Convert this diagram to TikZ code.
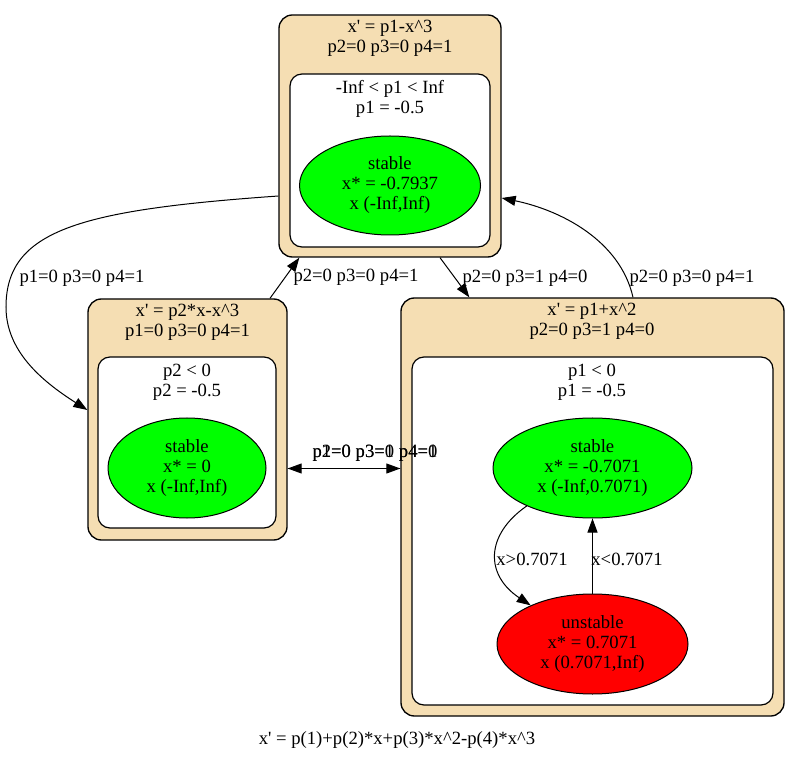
\documentclass[tikz,border=0pt]{standalone}
\usepackage{fontspec}
\setmainfont{Liberation Serif}
\usetikzlibrary{arrows.meta,shapes.geometric,calc}
\definecolor{wheat}{HTML}{F5DEB3}
\newcommand{\pr}{\textquotesingle}
\newcommand{\crt}{\textasciicircum}
\begin{document}
\begin{tikzpicture}[x=0.75pt,y=-0.75pt,
  every node/.style={font=\fontsize{14pt}{15pt}\selectfont},
  outerbox/.style={draw, line width=1pt, fill=wheat, rounded corners=10pt, inner sep=0pt},
  innerbox/.style={draw, line width=0.9pt, fill=white, rounded corners=9pt, inner sep=0pt},
  eqstate/.style={draw, ellipse, line width=0.75pt, inner sep=0pt},
  txt/.style={align=center, inner sep=0pt},
  edge/.style={line width=0.75pt, -{Triangle[length=10.5pt,width=7.5pt]}},
]
\useasboundingbox (0,0) rectangle (799,762);

% top system: x' = p1 - x^3
\node[outerbox, minimum width=166.5pt, minimum height=181.5pt] (A) at (390,136) {};
\node[txt] (Atitle) at (390,38.5) {x\pr{} = p1-x\crt3\\p2=0 p3=0 p4=1};
\node[innerbox, minimum width=150pt, minimum height=129.75pt] (Ain) at (390,160.5) {};
\node[txt] (Arange) at (390,99) {-Inf < p1 < Inf\\p1 = -0.5};
\node[eqstate, fill=green, minimum width=135.75pt, minimum height=74.25pt,
  label={[txt]center:stable\\x* = -0.7937\\x (-Inf,Inf)}] (Ae) at (390,185.5) {};

% left system: x' = p2*x - x^3
\node[outerbox, minimum width=149.25pt, minimum height=180.75pt] (B) at (187.5,419.5) {};
\node[txt] (Btitle) at (187.5,322) {x\pr{} = p2*x-x\crt3\\p1=0 p3=0 p4=1};
\node[innerbox, minimum width=133.5pt, minimum height=128.25pt] (Bin) at (187,442.5) {};
\node[txt] (Brange) at (187,382) {p2 < 0\\p2 = -0.5};
\node[eqstate, fill=green, minimum width=118.5pt, minimum height=75pt,
  label={[txt]center:stable\\x* = 0\\x (-Inf,Inf)}] (Be) at (187,468) {};

% right system: x' = p1 + x^2
\node[outerbox, minimum width=287.25pt, minimum height=313.5pt] (C) at (592.5,507) {};
\node[txt] (Ctitle) at (592,321.5) {x\pr{} = p1+x\crt2\\p2=0 p3=1 p4=0};
\node[innerbox, minimum width=270.75pt, minimum height=261pt] (Cin) at (592.5,531) {};
\node[txt] (Crange) at (592,382) {p1 < 0\\p1 = -0.5};
\node[eqstate, fill=green, minimum width=149.25pt, minimum height=75pt,
  label={[txt]center:stable\\x* = -0.7071\\x (-Inf,0.7071)}] (Cg) at (592.5,468) {};
\node[eqstate, fill=red, minimum width=143.25pt, minimum height=75pt,
  label={[txt]center:unstable\\x* = 0.7071\\x (0.7071,Inf)}] (Cr) at (592.5,644) {};

% transitions inside the right system
\draw[edge] (Cg.210) .. controls (485,535) and (485,575) .. (Cr.148);
\draw[edge] (Cr.north) -- (Cg.south);
\node[txt] (lgr) at (532,559) {x>0.7071};
\node[txt] (lrg) at (627,559) {x<0.7071};

% transitions between systems
\draw[edge] ($(A.west)+(0,60)$) .. controls (80,210) and (6,230) .. (6,307)
  .. controls (6,350) and (40,380) .. ($(B.west)+(0,-9.5)$);
\draw[edge] ($(B.north)+(82.5,0)$) -- ($(A.south west)+(21,0)$);
\draw[edge] ($(A.south)+(50,0)$) -- ($(C.north west)+(69,0)$);
\draw[edge] ($(C.north)+(40.5,0)$) .. controls (620,240) and (560,210) .. ($(A.east)+(0,62)$);
\draw[edge] ($(B.east)+(0,49)$) -- ($(C.west)+(0,-38.5)$);
\draw[edge] ($(C.west)+(0,-38.5)$) -- ($(B.east)+(0,49)$);

\node[txt] (lAB) at (82,278) {p1=0 p3=0 p4=1};
\node[txt] (lBA) at (356,277) {p2=0 p3=0 p4=1};
\node[txt] (lAC) at (525,278) {p2=0 p3=1 p4=0};
\node[txt] (lCA) at (692,278) {p2=0 p3=0 p4=1};
\node[txt] (lCB) at (375,453) {p1=0 p3=0 p4=1};
\node[txt] (lBC) at (375,453) {p2=0 p3=1 p4=0};

% model
\node[txt] (cap) at (397,740) {x\pr{} = p(1)+p(2)*x+p(3)*x\crt2-p(4)*x\crt3};
\end{tikzpicture}
\end{document}
